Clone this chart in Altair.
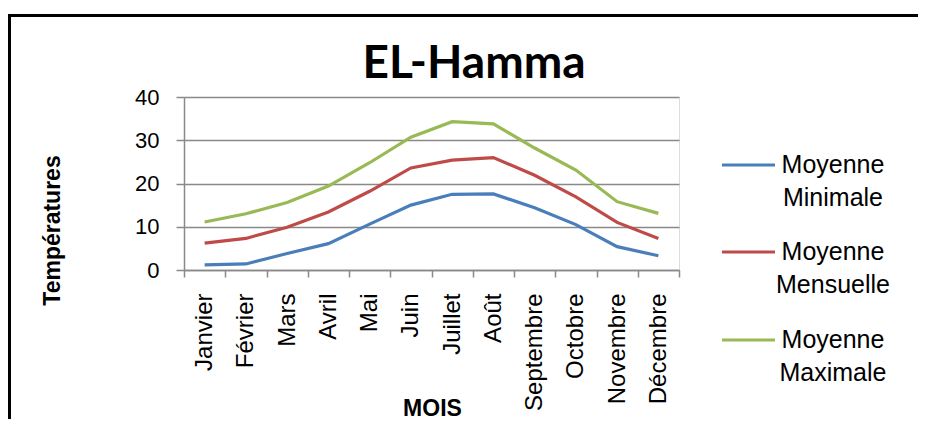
import altair as alt
import pandas as pd

# ---- data ----
months = ["Janvier", "Février", "Mars", "Avril", "Mai", "Juin",
          "Juillet", "Août", "Septembre", "Octobre", "Novembre", "Décembre"]
moy_min = [1.2, 1.4, 3.8, 6.1, 10.6, 15.0, 17.5, 17.6, 14.4, 10.5, 5.4, 3.3]
moy_mens = [6.2, 7.3, 9.9, 13.4, 18.2, 23.6, 25.4, 26.0, 21.9, 16.9, 11.0, 7.3]
moy_max = [11.1, 13.0, 15.6, 19.4, 24.8, 30.7, 34.3, 33.8, 28.2, 23.1, 15.8, 13.1]
series = ["Moyenne Minimale", "Moyenne Mensuelle", "Moyenne Maximale"]
legend_labels = ["Moyenne\nMinimale", "Moyenne\nMensuelle", "Moyenne\nMaximale"]
colors = ["#4A7EBB", "#BE4B48", "#98B954"]
y_ticks = [0, 10, 20, 30, 40]
chart_title = "EL-Hamma"

rows = []
for name, vals in zip(series, [moy_min, moy_mens, moy_max]):
    for m, v in zip(months, vals):
        rows.append({"Mois": m, "value": v, "series": name})
df = pd.DataFrame(rows)
leg = pd.DataFrame({"series": series, "label": legend_labels})
one = pd.DataFrame({"a": [0]})

FONT = "Liberation Sans"
GRID = "#898989"

color = alt.Color("series:N", scale=alt.Scale(domain=series, range=colors), legend=None)

lines = alt.Chart(df).mark_line(strokeWidth=3.2).encode(
    x=alt.X("Mois:N", sort=months,
            scale=alt.Scale(type="band", paddingInner=0, paddingOuter=0),
            axis=alt.Axis(title="MOIS", tickBand="extent", labelAngle=270,
                          labelAlign="right", labelBaseline="middle",
                          labelPadding=16, tickSize=7, labelFontSize=24,
                          labelFont=FONT, labelColor="black",
                          titleFont=FONT, titleFontSize=23, titleFontWeight="bold",
                          titleColor="black", titleX=248, titleY=145,
                          titleAlign="center", titleBaseline="alphabetic",
                          grid=False, domainColor=GRID, tickColor=GRID,
                          domainWidth=1.5, tickWidth=1.5)),
    y=alt.Y("value:Q", scale=alt.Scale(domain=[0, 40], nice=False),
            axis=alt.Axis(title="Températures", values=y_ticks, labelFontSize=22,
                          labelFont=FONT, labelColor="black", labelPadding=17,
                          tickSize=8, grid=True, gridColor=GRID, gridWidth=1.5,
                          domainColor=GRID, tickColor=GRID, domainWidth=1.5,
                          tickWidth=1.5, titleFont=FONT, titleFontSize=23,
                          titleFontWeight="bold", titleColor="black",
                          titleAngle=270, titleX=-132, titleY=133,
                          titleAlign="center", titleBaseline="middle")),
    color=color,
)

# custom legend (one rule + one two-line label per series)
legend_layers = []
for i, (name, ypos) in enumerate(zip(series, [68, 155, 243])):
    base = alt.Chart(leg).transform_filter(alt.datum.series == name)
    legend_layers.append(
        base.mark_rule(strokeWidth=3.2).encode(
            x=alt.value(538), x2=alt.value(591), y=alt.value(ypos), color=color))
    legend_layers.append(
        base.mark_text(align="center", baseline="alphabetic", dy=8, lineBreak="\n",
                       lineHeight=33, fontSize=25, font=FONT, color="black").encode(
            x=alt.value(649), y=alt.value(ypos), text="label:N"))

title_text = alt.Chart(pd.DataFrame({"t": [chart_title]})).mark_text(
    align="center", baseline="alphabetic", fontSize=46, fontWeight="bold",
    font="Liberation Sans Narrow, Lato, Liberation Sans", color="black",
).encode(x=alt.value(290), y=alt.value(-19), text="t:N")

frame_left = alt.Chart(one).mark_rule(strokeWidth=3, color="black").encode(
    x=alt.value(-174.5), y=alt.value(-83), y2=alt.value(330))
frame_top = alt.Chart(one).mark_rule(strokeWidth=3, color="black").encode(
    x=alt.value(-176), x2=alt.value(740), y=alt.value(-81.5))

chart = alt.layer(lines, *legend_layers, title_text, frame_left, frame_top).properties(
    width=495, height=173,
    autosize=alt.AutoSizeParams(type="none"),
    padding={"left": 176, "top": 89, "right": 239, "bottom": 149},
).configure_view(stroke=None).configure(background="white")

chart.save("out.html", embed_options={"renderer": "svg", "actions": False})
